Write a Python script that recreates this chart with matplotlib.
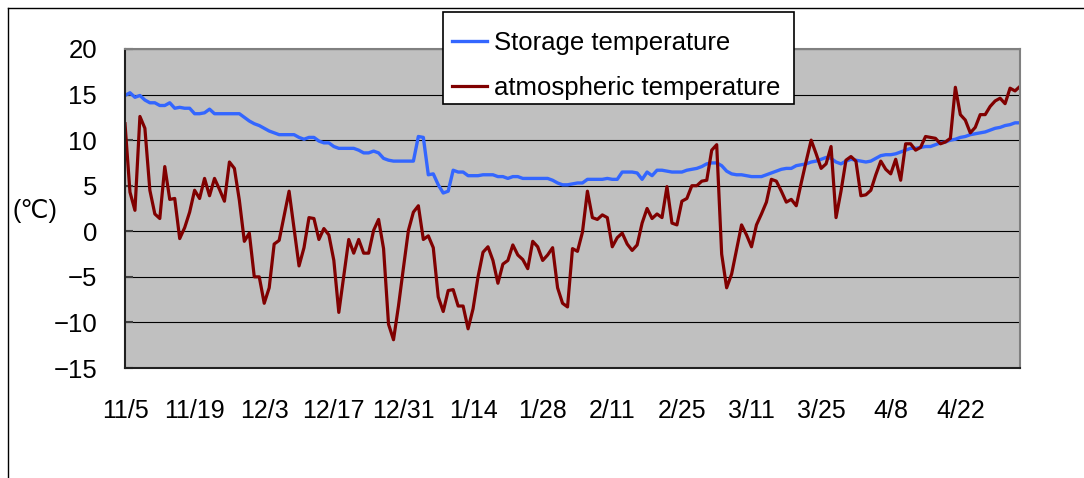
import numpy as np
import matplotlib.pyplot as plt
from matplotlib.lines import Line2D
from matplotlib.patches import Rectangle

# daily temperatures from 11/5 to 5/4 (one value per day)
storage = [
    14.9, 15.2, 14.7, 14.9, 14.4, 14.1, 14.1, 13.8, 13.8, 14.1,
    13.5, 13.6, 13.5, 13.5, 12.9, 12.9, 13.0, 13.4, 12.9, 12.9,
    12.9, 12.9, 12.9, 12.9, 12.5, 12.1, 11.8, 11.6, 11.3, 11.0,
    10.8, 10.6, 10.6, 10.6, 10.6, 10.3, 10.1, 10.3, 10.3, 9.9,
    9.7, 9.7, 9.3, 9.1, 9.1, 9.1, 9.1, 8.9, 8.6, 8.6,
    8.8, 8.6, 8.0, 7.8, 7.7, 7.7, 7.7, 7.7, 7.7, 10.4,
    10.3, 6.2, 6.3, 5.1, 4.2, 4.4, 6.7, 6.5, 6.5, 6.1,
    6.1, 6.1, 6.2, 6.2, 6.2, 6.0, 6.0, 5.8, 6.0, 6.0,
    5.8, 5.8, 5.8, 5.8, 5.8, 5.8, 5.6, 5.3, 5.1, 5.1,
    5.2, 5.3, 5.3, 5.7, 5.7, 5.7, 5.7, 5.8, 5.7, 5.7,
    6.5, 6.5, 6.5, 6.4, 5.7, 6.5, 6.1, 6.7, 6.7, 6.6,
    6.5, 6.5, 6.5, 6.7, 6.8, 6.9, 7.1, 7.4, 7.5, 7.5,
    7.2, 6.6, 6.3, 6.2, 6.2, 6.1, 6.0, 6.0, 6.0, 6.2,
    6.4, 6.6, 6.8, 6.9, 6.9, 7.2, 7.3, 7.4, 7.6, 7.7,
    7.9, 8.1, 8.0, 7.6, 7.4, 7.7, 7.9, 7.8, 7.7, 7.6,
    7.7, 8.0, 8.3, 8.4, 8.4, 8.5, 8.7, 8.9, 9.1, 9.1,
    9.2, 9.3, 9.3, 9.5, 9.7, 9.8, 10.0, 10.1, 10.3, 10.4,
    10.6, 10.7, 10.8, 10.9, 11.1, 11.3, 11.4, 11.6, 11.7, 11.9,
    11.9]

atmospheric = [
    11.8, 4.3, 2.3, 12.6, 11.3, 4.5, 1.9, 1.4, 7.1, 3.5,
    3.6, -0.8, 0.4, 2.1, 4.5, 3.6, 5.8, 3.9, 5.8, 4.6,
    3.3, 7.6, 6.9, 3.4, -1.1, -0.2, -5.0, -5.0, -7.9, -6.2,
    -1.4, -1.0, 1.7, 4.4, 0.3, -3.8, -1.8, 1.5, 1.4, -0.9,
    0.3, -0.4, -3.2, -8.9, -4.9, -0.9, -2.4, -0.9, -2.4, -2.4,
    0.1, 1.3, -1.9, -10.2, -11.9, -8.2, -4.0, 0.1, 2.1, 2.8,
    -0.9, -0.5, -1.8, -7.2, -8.8, -6.5, -6.4, -8.2, -8.2, -10.7,
    -8.5, -5.0, -2.3, -1.7, -3.2, -5.7, -3.6, -3.2, -1.5, -2.6,
    -3.1, -4.1, -1.1, -1.7, -3.2, -2.6, -1.8, -6.2, -7.9, -8.3,
    -1.9, -2.2, -0.1, 4.4, 1.5, 1.3, 1.8, 1.5, -1.7, -0.7,
    -0.2, -1.4, -2.1, -1.5, 0.9, 2.5, 1.4, 1.9, 1.5, 4.9,
    0.9, 0.7, 3.3, 3.6, 5.0, 5.0, 5.5, 5.6, 8.9, 9.5,
    -2.5, -6.2, -4.7, -2.0, 0.7, -0.4, -1.7, 0.7, 1.9, 3.2,
    5.7, 5.5, 4.4, 3.2, 3.5, 2.8, 5.3, 7.7, 10.0, 8.5,
    6.9, 7.4, 9.3, 1.5, 4.4, 7.8, 8.2, 7.7, 3.9, 4.0,
    4.5, 6.2, 7.7, 6.8, 6.3, 7.9, 5.6, 9.6, 9.6, 8.9,
    9.2, 10.4, 10.3, 10.2, 9.6, 9.8, 10.2, 15.8, 12.8, 12.2,
    10.8, 11.4, 12.8, 12.8, 13.7, 14.3, 14.6, 14.0, 15.7, 15.4,
    15.9]

tick_labels = ['11/5', '11/19', '12/3', '12/17', '12/31', '1/14', '1/28',
               '2/11', '2/25', '3/11', '3/25', '4/8', '4/22']

plt.rcParams['font.family'] = ['Liberation Sans', 'DejaVu Sans']

W, H = 1084, 478
fig = plt.figure(figsize=(W / 100, H / 100), dpi=100)
ax = fig.add_axes([125 / W, 1 - 368 / H, (1020 - 125) / W, (368 - 49) / H])
ax.set_facecolor('#C0C0C0')

days = np.arange(len(storage))
ax.plot(days, storage, color='#3366FF', lw=2.4, label='Storage temperature')
ax.plot(days, atmospheric, color='#800000', lw=2.3, label='atmospheric temperature')

ax.set_xlim(0, len(storage) - 1)
ax.set_ylim(-15, 20)
ax.set_yticks(range(-15, 21, 5))
ax.set_xticks(np.arange(len(tick_labels)) * 14, tick_labels)
ax.yaxis.grid(True, color='black', lw=0.8)
ax.set_axisbelow(True)
ax.tick_params(axis='x', length=0, pad=22, labelsize=18)
ax.tick_params(axis='y', direction='in', length=6, width=1.5, color='#404040',
               pad=20, labelsize=18.5)

for s in ['left', 'bottom']:
    ax.spines[s].set_color('#202020')
    ax.spines[s].set_linewidth(1.5)
for s in ['top', 'right']:
    ax.spines[s].set_color('#808080')
    ax.spines[s].set_linewidth(1.5)

# legend box drawn separately so its padding matches the original
fig.add_artist(Rectangle((443 / W, 1 - 104 / H), 351 / W, 92 / H, transform=fig.transFigure,
                         facecolor='white', edgecolor='black', lw=1.2, zorder=4))
handles, labels = ax.get_legend_handles_labels()
fig.legend(handles, labels, loc='upper left', bbox_to_anchor=(443 / W, 1 - 22 / H),
           fontsize=18.5, frameon=False, borderpad=0.35, labelspacing=0.82,
           handlelength=1.35, handletextpad=0.3, borderaxespad=0).set_zorder(5)

fig.text(35 / W, 1 - 211 / H, '(℃)', fontsize=18, ha='center', va='center')

# outer chart border (only top and left visible)
fig.add_artist(Line2D([8 / W, 1], [1 - 8 / H, 1 - 8 / H], color='black', lw=1,
                      transform=fig.transFigure))
fig.add_artist(Line2D([8 / W, 8 / W], [0, 1 - 8 / H], color='black', lw=1,
                      transform=fig.transFigure))

fig.savefig('out.png', dpi=100)
